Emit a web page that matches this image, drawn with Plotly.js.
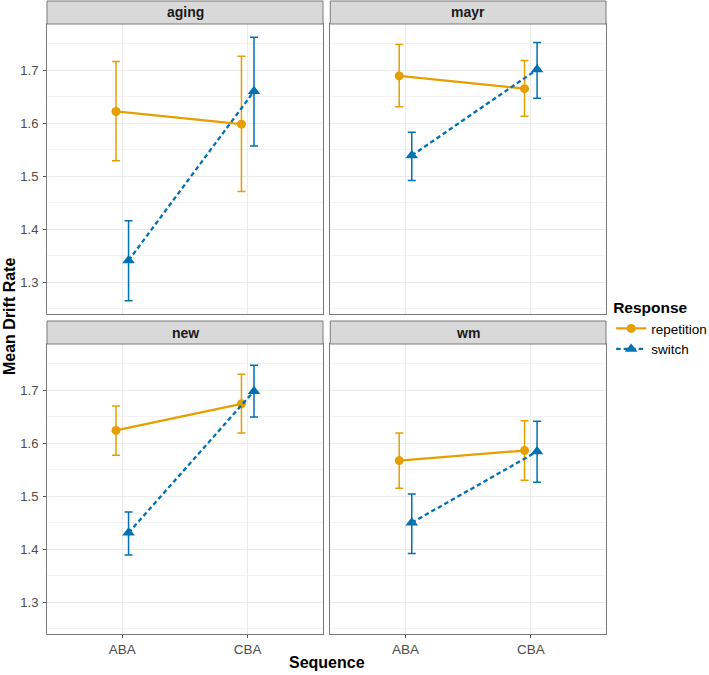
<!DOCTYPE html>
<html>
<head>
<meta charset="utf-8">
<script src="https://cdn.plot.ly/plotly-3.0.1.min.js"></script>
<style>
  html, body { margin: 0; padding: 0; background: #ffffff; }
  #chart { width: 709px; height: 675px; }
</style>
</head>
<body>
<div id="chart"></div>
<script>
// ---------------- data ----------------
const categories = ['ABA', 'CBA'];
const panels = ['aging', 'mayr', 'new', 'wm'];
const responses = ['repetition', 'switch'];

// repetition: mean and error-bar bounds, per panel [ABA, CBA]
const repMean = [[1.622, 1.598], [1.689, 1.665], [1.624, 1.674], [1.567, 1.586]];
const repLow  = [[1.529, 1.471], [1.631, 1.613], [1.577, 1.619], [1.515, 1.530]];
const repHigh = [[1.716, 1.726], [1.748, 1.718], [1.670, 1.730], [1.619, 1.642]];

// switch: mean and error-bar bounds, per panel [ABA, CBA]
const swMean = [[1.341, 1.660], [1.539, 1.701], [1.431, 1.698], [1.450, 1.584]];
const swLow  = [[1.265, 1.557], [1.492, 1.647], [1.389, 1.649], [1.392, 1.526]];
const swHigh = [[1.416, 1.762], [1.583, 1.752], [1.470, 1.747], [1.504, 1.641]];

const yTicks = [1.3, 1.4, 1.5, 1.6, 1.7];

// ---------------- styling ----------------
const W = 709, H = 675;
const FONT = '"Liberation Sans", Arial, Helvetica, sans-serif';
const colors = {repetition: '#E69F00', switch: '#0072B2'};
const dodge = 0.05;

// panel pixel boxes [x0, x1, yTop, yBottom]
const boxes = [
  [47, 323, 24, 314],
  [330.3, 606, 24, 314],
  [47, 323, 344, 634],
  [330.3, 606, 344, 634]
];
const stripH = 23;

// y range from data with ggplot-like 5% expansion
const allLow = repLow.flat().concat(swLow.flat());
const allHigh = repHigh.flat().concat(swHigh.flat());
const yMin = Math.min(...allLow), yMax = Math.max(...allHigh);
const pad = (yMax - yMin) * 0.05;
const yRange = [yMin - pad, yMax + pad];

const traces = [];
const layout = {
  width: W, height: H,
  margin: {l: 0, r: 0, t: 0, b: 0, autoexpand: false},
  paper_bgcolor: '#ffffff',
  plot_bgcolor: '#ffffff',
  font: {family: FONT, color: '#000000'},
  showlegend: true,
  legend: {
    x: 0.862, xanchor: 'left',
    y: 0.566, yanchor: 'top',
    title: {text: '<b>Response</b>', side: 'top', font: {family: FONT, size: 15.5, color: '#000000'}},
    font: {family: FONT, size: 13.5, color: '#000000'},
    itemwidth: 30,
    tracegroupgap: 0,
    bgcolor: 'rgba(0,0,0,0)'
  },
  shapes: [],
  annotations: []
};

panels.forEach((name, p) => {
  const suffix = p === 0 ? '' : String(p + 1);
  const [x0, x1, yT, yB] = boxes[p];
  const isBottom = p >= 2;
  const isLeft = p % 2 === 0;

  layout['xaxis' + suffix] = {
    domain: [x0 / W, x1 / W],
    anchor: 'y' + suffix,
    range: [0.4, categories.length + 0.6],
    tickvals: categories.map((c, i) => i + 1),
    ticktext: categories,
    showticklabels: isBottom,
    ticks: isBottom ? 'outside' : '',
    ticklen: 3, tickwidth: 1, tickcolor: '#555555',
    tickfont: {family: FONT, size: 13.5, color: '#4d4d4d'},
    showgrid: true, gridcolor: '#ebebeb', gridwidth: 1.1,
    zeroline: false,
    showline: true, mirror: true, linecolor: '#7a7a7a', linewidth: 1,
    automargin: false,
    fixedrange: true
  };
  layout['yaxis' + suffix] = {
    domain: [(H - yB) / H, (H - yT) / H],
    anchor: 'x' + suffix,
    range: yRange,
    tickvals: yTicks,
    ticktext: yTicks.map(v => v.toFixed(1)),
    showticklabels: isLeft,
    ticks: isLeft ? 'outside' : '',
    ticklen: 3, tickwidth: 1, tickcolor: '#555555',
    ticklabelstandoff: 2,
    tickfont: {family: FONT, size: 13, color: '#4d4d4d'},
    showgrid: true, gridcolor: '#ebebeb', gridwidth: 1.1,
    minor: {dtick: 0.05, tick0: 1.25, showgrid: true, gridcolor: '#f1f1f1', gridwidth: 0.9, ticks: ''},
    zeroline: false,
    showline: true, mirror: true, linecolor: '#7a7a7a', linewidth: 1,
    automargin: false,
    fixedrange: true
  };

  // strip
  layout.shapes.push({
    type: 'rect', xref: 'paper', yref: 'paper',
    x0: x0 / W, x1: x1 / W,
    y0: (H - yT) / H, y1: (H - yT + stripH) / H,
    fillcolor: '#d9d9d9',
    line: {color: '#7a7a7a', width: 1},
    layer: 'above'
  });
  layout.annotations.push({
    xref: 'paper', yref: 'paper',
    x: (x0 + x1) / 2 / W, y: (H - yT + stripH / 2) / H,
    xanchor: 'center', yanchor: 'middle',
    text: '<b>' + name + '</b>', showarrow: false,
    font: {family: FONT, size: 14, color: '#1a1a1a'}
  });

  const series = [
    {resp: 'repetition', mean: repMean[p], low: repLow[p], high: repHigh[p], off: -dodge, dash: 'solid', symbol: 'circle', size: 9},
    {resp: 'switch', mean: swMean[p], low: swLow[p], high: swHigh[p], off: dodge, dash: '4.5px,3px', symbol: 'triangle-up', size: 11}
  ];
  series.forEach(s => {
    traces.push({
      type: 'scatter', mode: 'lines+markers',
      name: s.resp, legendgroup: s.resp, showlegend: p === 0,
      xaxis: 'x' + suffix, yaxis: 'y' + suffix,
      x: categories.map((c, i) => i + 1 + s.off),
      y: s.mean,
      line: {color: colors[s.resp], width: 2.3, dash: s.dash},
      marker: {color: colors[s.resp], symbol: s.symbol, size: s.size, line: {width: 0}},
      error_y: {
        type: 'data', symmetric: false,
        array: s.high.map((h, i) => h - s.mean[i]),
        arrayminus: s.mean.map((m, i) => m - s.low[i]),
        color: colors[s.resp], thickness: 1.5, width: 4
      },
      hoverinfo: 'skip'
    });
  });
});

// shared axis titles
layout.annotations.push({
  xref: 'paper', yref: 'paper',
  x: (47 + 606) / 2 / W, y: (H - 662) / H,
  xanchor: 'center', yanchor: 'middle',
  text: '<b>Sequence</b>', showarrow: false,
  font: {family: FONT, size: 16, color: '#000000'}
});
layout.annotations.push({
  xref: 'paper', yref: 'paper',
  x: 9 / W, y: (H - 317) / H,
  xanchor: 'center', yanchor: 'middle',
  text: '<b>Mean Drift Rate</b>', showarrow: false, textangle: -90,
  font: {family: FONT, size: 16, color: '#000000'}
});

Plotly.newPlot('chart', traces, layout, {displayModeBar: false, staticPlot: true});
</script>
</body>
</html>
